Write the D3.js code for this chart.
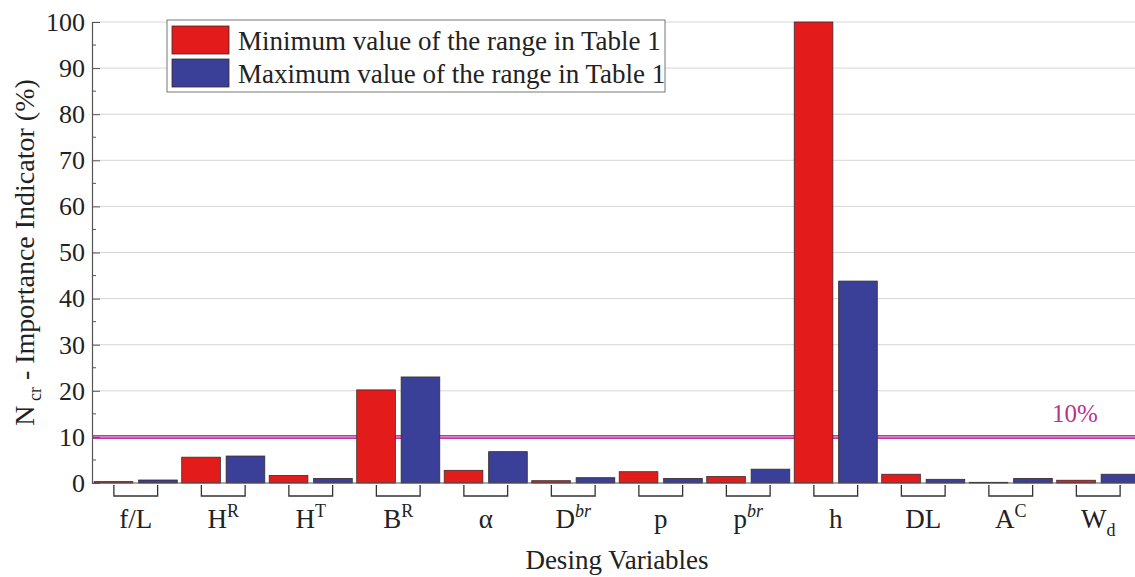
<!DOCTYPE html>
<html>
<head>
<meta charset="utf-8">
<script src="https://cdn.jsdelivr.net/npm/d3@7"></script>
<style>
  body { margin: 0; background: #fff; }
  text { font-family: "Liberation Serif", "Times New Roman", serif; }
</style>
</head>
<body>
<script>
// Data
const categories = ['f/L', 'HR', 'HT', 'BR', 'alpha', 'Dbr', 'p', 'pbr', 'h', 'DL', 'AC', 'Wd'];
const minValues = [0.3, 5.6, 1.65, 20.2, 2.75, 0.5, 2.45, 1.4, 100, 1.9, 0.15, 0.6];
const maxValues = [0.65, 5.85, 1.0, 23.0, 6.8, 1.15, 1.0, 3.0, 43.8, 0.8, 1.0, 1.9];
const seriesNames = ['Minimum value of the range in Table 1', 'Maximum value of the range in Table 1'];
const yTicks = [0, 10, 20, 30, 40, 50, 60, 70, 80, 90, 100];
const threshold = 10;

// label pieces: [base, script, type]
const labelParts = {
  'f/L': ['f/L', '', ''],
  'HR': ['H', 'R', 'sup'],
  'HT': ['H', 'T', 'sup'],
  'BR': ['B', 'R', 'sup'],
  'alpha': ['\u03b1', '', ''],
  'Dbr': ['D', 'br', 'supi'],
  'p': ['p', '', ''],
  'pbr': ['p', 'br', 'supi'],
  'h': ['h', '', ''],
  'DL': ['DL', '', ''],
  'AC': ['A', 'C', 'sup'],
  'Wd': ['W', 'd', 'sub']
};

const colors = ['#e31b1b', '#3a3f97'];

const W = 1135, H = 577;
const margin = { top: 22, left: 92, bottom: 94 };
const plotBottom = H - margin.bottom; // 483

const svg = d3.select('body')
  .append('svg')
  .attr('width', W)
  .attr('height', H);

const data = categories.map((c, i) => ({ category: c, values: [minValues[i], maxValues[i]] }));

// Scales
const x0 = d3.scaleBand()
  .domain(categories)
  .range([margin.left, margin.left + 12 * 87.5])
  .padding(0);

const x1 = d3.scaleBand()
  .domain([0, 1])
  .range([0, x0.bandwidth()])
  .paddingInner(0.13)
  .paddingOuter(0.05);

const y = d3.scaleLinear()
  .domain([0, 100])
  .range([plotBottom, margin.top]);

// Gridlines
svg.append('g')
  .selectAll('line')
  .data(yTicks.filter(d => d > 0))
  .join('line')
  .attr('x1', margin.left)
  .attr('x2', W)
  .attr('y1', d => y(d))
  .attr('y2', d => y(d))
  .attr('stroke', '#d6d6d6')
  .attr('stroke-width', 1);

// Threshold line (10%)
svg.append('line')
  .attr('x1', margin.left).attr('x2', W)
  .attr('y1', y(threshold)).attr('y2', y(threshold))
  .attr('stroke', '#c2389f').attr('stroke-width', 4);
svg.append('line')
  .attr('x1', margin.left).attr('x2', W)
  .attr('y1', y(threshold)).attr('y2', y(threshold))
  .attr('stroke', '#eab0dc').attr('stroke-width', 1);

svg.append('text')
  .attr('x', 1075)
  .attr('y', y(threshold) - 15)
  .attr('text-anchor', 'middle')
  .attr('font-size', 25)
  .attr('fill', '#b8338f')
  .text('10%');

// Bars
const groups = svg.append('g')
  .selectAll('g')
  .data(data)
  .join('g')
  .attr('transform', d => `translate(${x0(d.category)},0)`);

groups.selectAll('rect')
  .data(d => d.values.map((v, i) => ({ v, i })))
  .join('rect')
  .attr('x', d => x1(d.i))
  .attr('y', d => y(d.v))
  .attr('width', x1.bandwidth())
  .attr('height', d => plotBottom - y(d.v))
  .attr('fill', d => colors[d.i])
  .attr('stroke', '#3a2a2a')
  .attr('stroke-width', 0.8);

// Y axis
const yAxis = d3.axisLeft(y)
  .tickValues(yTicks)
  .tickSize(-8)
  .tickPadding(7)
  .tickFormat(d3.format('d'));

const yg = svg.append('g')
  .attr('transform', `translate(${margin.left},0)`)
  .call(yAxis);
yg.select('.domain').attr('stroke', '#555').attr('stroke-width', 1.2);
yg.selectAll('.tick line').attr('stroke', '#555');
yg.selectAll('.tick text')
  .attr('font-size', 26)
  .attr('fill', '#222');

// minor ticks
svg.append('g')
  .selectAll('line')
  .data(d3.range(5, 100, 10))
  .join('line')
  .attr('x1', margin.left).attr('x2', margin.left + 4)
  .attr('y1', d => y(d)).attr('y2', d => y(d))
  .attr('stroke', '#555');

// baseline
svg.append('line')
  .attr('x1', margin.left).attr('x2', W)
  .attr('y1', plotBottom).attr('y2', plotBottom)
  .attr('stroke', '#555').attr('stroke-width', 1);

// Group brackets under x axis
svg.append('g')
  .selectAll('path')
  .data(categories)
  .join('path')
  .attr('d', c => {
    const cx = x0(c) + x0.bandwidth() / 2;
    const hw = x0.bandwidth() / 4;
    return `M${cx - hw},${plotBottom + 2}V${plotBottom + 13}H${cx + hw}V${plotBottom + 2}`;
  })
  .attr('fill', 'none')
  .attr('stroke', '#333')
  .attr('stroke-width', 1.3);

// Category labels
const labels = svg.append('g')
  .selectAll('text')
  .data(categories)
  .join('text')
  .attr('x', c => x0(c) + x0.bandwidth() / 2)
  .attr('y', 528)
  .attr('text-anchor', 'middle')
  .attr('font-size', 27)
  .attr('fill', '#222');

labels.each(function (c) {
  const [base, scr, type] = labelParts[c];
  const t = d3.select(this);
  t.append('tspan').text(base);
  if (scr) {
    t.append('tspan')
      .attr('font-size', 18)
      .attr('dy', type === 'sub' ? 8 : -11)
      .attr('font-style', type === 'supi' ? 'italic' : 'normal')
      .text(scr);
  }
});

// Axis titles
svg.append('text')
  .attr('x', 617)
  .attr('y', 569)
  .attr('text-anchor', 'middle')
  .attr('font-size', 27)
  .attr('fill', '#222')
  .text('Desing Variables');

const yt = svg.append('text')
  .attr('transform', `translate(34,${(margin.top + plotBottom) / 2}) rotate(-90)`)
  .attr('text-anchor', 'middle')
  .attr('font-size', 28)
  .attr('fill', '#222');
yt.append('tspan').text('N');
yt.append('tspan').attr('font-size', 18).attr('dy', 7).text(' cr');
yt.append('tspan').attr('dy', -7).text(' - Importance Indicator (%)');

// Legend
const legend = svg.append('g');
legend.append('rect')
  .attr('x', 167).attr('y', 20)
  .attr('width', 498).attr('height', 72)
  .attr('fill', '#fff')
  .attr('stroke', '#777')
  .attr('stroke-width', 1);

seriesNames.forEach((name, i) => {
  legend.append('rect')
    .attr('x', 172).attr('y', 26 + i * 33)
    .attr('width', 57).attr('height', 28)
    .attr('fill', colors[i])
    .attr('stroke', '#3a2a2a')
    .attr('stroke-width', 0.8);
  legend.append('text')
    .attr('x', 238).attr('y', 50 + i * 33)
    .attr('font-size', 27)
    .attr('fill', '#222')
    .text(name);
});
</script>
</body>
</html>
